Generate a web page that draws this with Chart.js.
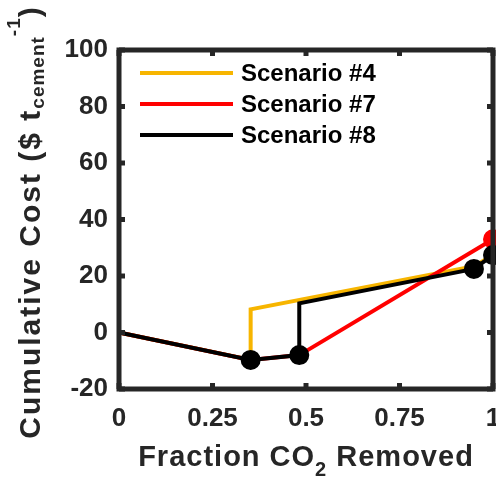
<!DOCTYPE html>
<html>
<head>
<meta charset="utf-8">
<script src="https://cdn.jsdelivr.net/npm/chart.js@4/dist/chart.umd.min.js"></script>
<style>
  html, body { margin: 0; padding: 0; background: #fff; }
  #wrap { width: 496px; height: 478px; }
</style>
</head>
<body>
<div id="wrap"><canvas id="grafico"></canvas></div>
<script>
// datos
const seriesNames = ['Scenario #4', 'Scenario #7', 'Scenario #8'];
const s4X = [0, 0.352, 0.352, 0.95, 1.0];
const s4Y = [0, -9.7, 8.2, 23.5, 27.4];
const s7X = [0, 0.352, 0.482, 1.0];
const s7Y = [0, -9.7, -8.0, 33.0];
const s8X = [0, 0.352, 0.482, 0.482, 0.949, 1.0];
const s8Y = [0, -9.7, -8.0, 10.3, 22.5, 27.4];
const xTicks = [0, 0.25, 0.5, 0.75, 1];
const yTicks = [-20, 0, 20, 40, 60, 80, 100];

const ink = '#262626';
const colores = ['#F7B500', '#FF0000', '#000000'];
const familia = '"Liberation Sans", Arial, sans-serif';

function pares(xs, ys) { return xs.map((x, i) => ({x: x, y: ys[i]})); }

// dibuja trozos de texto seguidos (para sub/superindices)
function textoPartes(ctx, partes, cx, base) {
  let w = 0;
  partes.forEach(p => { ctx.font = p.font; ctx.letterSpacing = p.ls + 'px'; w += ctx.measureText(p.t).width; });
  let x0 = cx - w / 2;
  partes.forEach(p => {
    ctx.font = p.font;
    ctx.letterSpacing = p.ls + 'px';
    ctx.fillText(p.t, x0, base + p.dy);
    x0 += ctx.measureText(p.t).width;
  });
  ctx.letterSpacing = '0px';
}

// caja de ejes, ticks hacia adentro, leyenda y titulos
const decoracion = {
  id: 'decoracion',
  afterDraw(chart) {
    const ctx = chart.ctx;
    const a = chart.chartArea;
    const xs = chart.scales.x, ys = chart.scales.y;
    ctx.save();
    ctx.strokeStyle = ink;
    ctx.lineWidth = 5;
    ctx.strokeRect(a.left, a.top, a.right - a.left, a.bottom - a.top);
    xTicks.forEach(v => {
      const px = xs.getPixelForValue(v);
      ctx.beginPath(); ctx.moveTo(px, a.bottom); ctx.lineTo(px, a.bottom - 6); ctx.stroke();
      ctx.beginPath(); ctx.moveTo(px, a.top); ctx.lineTo(px, a.top + 6); ctx.stroke();
    });
    yTicks.forEach(v => {
      const py = ys.getPixelForValue(v);
      ctx.beginPath(); ctx.moveTo(a.left, py); ctx.lineTo(a.left + 6, py); ctx.stroke();
      ctx.beginPath(); ctx.moveTo(a.right, py); ctx.lineTo(a.right - 6, py); ctx.stroke();
    });

    // leyenda
    ctx.font = 'bold 24px ' + familia;
    ctx.textBaseline = 'middle';
    ctx.fillStyle = '#000';
    seriesNames.forEach((n, i) => {
      const y = 73 + i * 31;
      ctx.strokeStyle = colores[i];
      ctx.lineWidth = 4;
      ctx.beginPath(); ctx.moveTo(140, y); ctx.lineTo(233, y); ctx.stroke();
      ctx.fillText(n, 241, y + 1);
    });

    // titulo eje x
    ctx.fillStyle = ink;
    ctx.textBaseline = 'alphabetic';
    textoPartes(ctx, [
      {t: 'Fraction CO', font: 'bold 29px ' + familia, ls: 1, dy: 0},
      {t: '2', font: 'bold 20px ' + familia, ls: 1, dy: 10},
      {t: ' Removed', font: 'bold 29px ' + familia, ls: 1, dy: 0}
    ], (a.left + a.right) / 2, 466);

    // titulo eje y
    ctx.save();
    ctx.translate(40, 222);
    ctx.rotate(-Math.PI / 2);
    textoPartes(ctx, [
      {t: 'Cumulative Cost ($ t', font: 'bold 30px ' + familia, ls: 2, dy: 0},
      {t: 'cement', font: 'bold 19px ' + familia, ls: 1, dy: 4},
      {t: '-1', font: 'bold 19px ' + familia, ls: 1, dy: -20},
      {t: ')', font: 'bold 30px ' + familia, ls: 2, dy: 0}
    ], 0, 0);
    ctx.restore();
    ctx.restore();
  }
};

const ctx = document.getElementById('grafico').getContext('2d');
new Chart(ctx, {
  type: 'scatter',
  data: {
    datasets: [
      {
        label: seriesNames[0],
        data: pares(s4X, s4Y),
        showLine: true,
        borderColor: colores[0],
        backgroundColor: colores[0],
        borderWidth: 4,
        pointRadius: 0,
        order: 3,
        clip: false
      },
      {
        label: seriesNames[1],
        data: pares(s7X, s7Y),
        showLine: true,
        borderColor: colores[1],
        backgroundColor: colores[1],
        borderWidth: 4,
        pointRadius: c => c.dataIndex === s7X.length - 1 ? 9 : 0,
        pointBorderWidth: 2,
        order: 2,
        clip: false
      },
      {
        label: seriesNames[2],
        data: pares(s8X, s8Y),
        showLine: true,
        borderColor: colores[2],
        backgroundColor: colores[2],
        borderWidth: 4,
        pointRadius: c => (c.dataIndex === 0 || c.dataIndex === 3) ? 0 : 9,
        pointBorderWidth: 2,
        order: 1,
        clip: false
      }
    ]
  },
  options: {
    responsive: true,
    maintainAspectRatio: false,
    animation: false,
    layout: { autoPadding: false, padding: { top: 50, right: 3, left: 0, bottom: 0 } },
    plugins: { legend: { display: false }, tooltip: { enabled: false } },
    scales: {
      x: {
        type: 'linear',
        min: 0, max: 1,
        afterBuildTicks: s => { s.ticks = xTicks.map(v => ({value: v})); },
        ticks: {
          font: { family: familia, size: 26, weight: 'bold' },
          color: ink,
          padding: 14,
          maxRotation: 0,
          autoSkip: false,
          callback: v => String(v)
        },
        grid: { display: false, drawTicks: false },
        border: { display: false },
        afterFit: s => { s.height = 89; s.paddingLeft = 0; s.paddingRight = 0; }
      },
      y: {
        type: 'linear',
        min: -20, max: 100,
        afterBuildTicks: s => { s.ticks = yTicks.map(v => ({value: v})); },
        ticks: {
          font: { family: familia, size: 26, weight: 'bold' },
          color: ink,
          padding: 11,
          autoSkip: false
        },
        grid: { display: false, drawTicks: false },
        border: { display: false },
        afterFit: s => { s.width = 119; s.paddingTop = 0; s.paddingBottom = 0; }
      }
    }
  },
  plugins: [decoracion]
});
</script>
</body>
</html>
